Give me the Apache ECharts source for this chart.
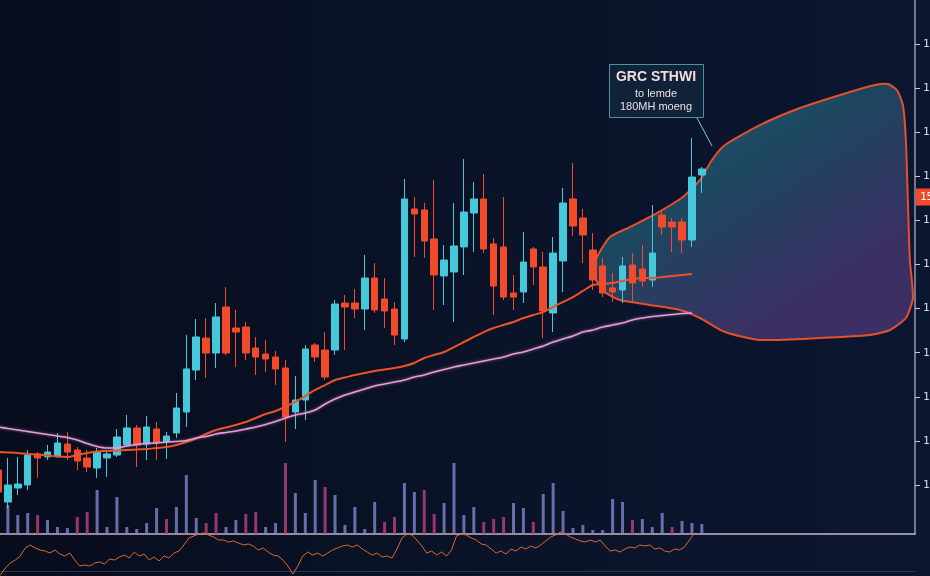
<!DOCTYPE html>
<html><head><meta charset="utf-8">
<script src="https://cdn.jsdelivr.net/npm/echarts@6/dist/echarts.min.js"></script>
<style>html,body{margin:0;padding:0;background:#09122a}#c{width:930px;height:576px}</style>
</head><body><div id="c"></div>
<script>
// ---- data ----
const categories = Array.from({length: 93}, (_, i) => 'D' + (i + 1));
const openPrices  = [121.69,118.06,119.65,119.99,123.51,123.17,123.28,124.64,123.96,123.05,121.92,123.05,123.39,124.53,126.46,124.64,126.34,124.87,125.89,128.27,133.03,136.66,134.96,140.18,137.80,137.91,135.53,134.85,134.51,133.26,128.27,129.63,135.87,135.30,135.30,140.63,140.63,139.95,143.47,141.09,139.95,136.55,151.30,151.18,147.89,143.70,144.15,146.99,150.84,152.43,147.33,146.99,141.77,141.88,146.76,144.72,139.50,145.40,152.43,150.27,146.64,144.83,142.34,142.11,144.94,144.49,143.24,150.61,149.82,149.82,147.78,155.15];
const closePrices = [119.20,119.99,120.10,123.39,123.05,123.73,124.76,123.73,122.71,122.03,123.73,123.51,125.44,126.46,124.53,126.57,124.76,125.55,128.72,133.15,136.78,134.96,139.05,134.96,137.34,134.96,134.51,134.28,133.15,127.70,129.63,135.42,134.51,132.24,140.52,140.18,139.95,143.47,139.84,139.73,137.00,152.43,150.73,147.67,143.81,145.51,147.10,150.95,152.43,146.76,142.56,141.31,141.31,145.28,144.72,139.73,146.30,151.98,149.37,148.35,143.24,141.77,141.88,144.83,142.90,143.13,146.30,149.25,149.25,147.78,154.92,155.83];
const lowPrices   = [118.86,117.38,118.86,119.42,120.79,122.83,123.05,122.83,121.69,121.47,120.79,120.90,123.17,124.30,122.03,122.83,122.83,122.94,125.32,126.57,131.90,132.13,133.26,134.74,133.37,134.17,132.47,132.81,131.33,124.87,126.34,127.36,133.94,131.90,134.74,135.30,138.93,137.57,139.50,137.80,135.87,136.21,145.85,145.74,139.84,140.41,138.48,143.81,146.42,146.30,139.27,140.97,139.84,140.63,142.68,136.66,137.34,141.88,148.23,145.17,142.11,141.31,140.75,140.63,140.63,142.45,142.45,148.35,146.42,146.30,146.99,153.11];
const highPrices  = [122.26,123.05,123.17,123.96,123.73,124.53,125.89,126.00,124.30,123.96,124.19,123.96,126.34,127.93,126.80,127.82,127.14,126.00,130.43,137.00,138.82,138.93,140.63,142.45,139.84,138.48,136.78,136.44,135.19,134.17,132.35,135.87,136.10,137.34,140.97,141.54,142.22,146.08,145.17,143.47,140.75,154.70,152.66,151.98,154.58,147.21,151.98,156.97,154.36,155.27,148.01,152.66,143.81,148.69,146.99,146.42,148.12,153.68,156.51,151.30,148.57,145.74,144.04,145.85,146.30,147.21,151.75,151.18,150.27,150.27,159.35,156.06];
const maFast = [123.73,123.68,123.62,123.51,123.45,123.34,123.22,123.17,123.39,123.62,123.79,123.85,123.90,123.96,124.02,124.07,124.19,124.30,124.53,124.87,125.27,125.78,126.23,126.51,126.80,127.14,127.59,128.04,128.38,128.90,129.41,130.09,130.77,131.33,131.90,132.18,132.47,132.69,132.92,133.09,133.26,133.49,133.83,134.40,134.74,135.08,135.64,136.21,136.78,137.34,137.80,138.14,138.48,138.93,139.27,139.61,140.18,140.75,141.31,142.00,142.68,142.79,142.90,143.13,143.36,143.47,143.47,143.58,143.70,143.81,143.92];
const maSlow = [126.57,126.40,126.23,126.06,125.89,125.72,125.55,125.38,125.10,124.70,124.36,124.19,124.19,124.41,124.59,124.70,124.76,124.87,124.92,125.04,125.32,125.49,125.78,125.95,126.12,126.34,126.57,126.85,127.19,127.59,127.93,128.16,128.50,129.18,129.75,130.20,130.54,130.88,131.22,131.45,131.67,131.90,132.24,132.47,132.81,133.09,133.37,133.60,133.83,134.06,134.28,134.51,134.85,135.08,135.42,135.76,136.21,136.55,136.89,137.34,137.57,137.91,138.14,138.37,138.71,138.93,139.10,139.22,139.33,139.44,139.50];
const volumes = [12,29,19,21,19,14,7,6,17,22,44,7,37,7,5,11,26,15,27,59,16,11,21,7,14,20,22,7,11,71,41,21,54,47,39,9,27,5,32,12,17,51,42,44,20,31,71,19,27,12,15,17,31,26,12,40,51,23,6,9,4,4,35,32,14,15,7,21,7,13,11,10];
const volumeSide = ['b','b','b','b','p','b','b','b','p','p','b','b','b','b','b','b','b','p','b','b','b','p','p','b','b','p','p','b','b','p','b','b','b','p','b','b','b','b','b','p','p','b','b','p','p','b','b','b','b','p','p','p','b','b','p','b','b','b','b','b','b','b','b','b','p','b','b','b','p','b','b','b'];
const oscCategories = Array.from({length: 186}, (_, i) => 'H' + (i + 1));
const oscValues = [0,1,8,13,16,20,28,31,28,26,25,23,26,22,20,23,16,10,11,10,13,14,12,17,16,19,21,18,24,20,22,16,19,15,20,18,23,25,31,38,40,42,43,41,39,36,36,34,35,33,31,32,30,26,28,24,21,20,16,10,2,10,20,24,21,23,20,23,26,28,30,31,29,31,27,24,21,23,19,20,18,27,38,42,41,36,30,23,25,21,24,20,26,40,42,41,38,36,32,31,27,23,25,22,27,25,29,27,30,28,31,35,39,41,44,42,39,37,35,34,36,34,36,30,25,26,24,27,29,28,31,30,31,27,28,25,24,27,26,29,36,43];
const cloudIndex = [59.91,60.42,61.73,63.74,66.47,69.09,70.81,72.02,73.33,76.86,80.89,85.93,88.45,89.77,90.67,91.28,91.58,91.78,91.98,92.29,91.58,89.97,87.95,82.91,76.86,73.33,70.81,68.79,65.76,62.74,61.22];
const cloudPrice = [144.15,145.85,148.12,149.25,150.84,152.66,154.58,156.85,158.55,160.82,162.75,164.57,165.36,165.47,164.79,163.09,159.12,152.32,145.51,141.20,138.93,137.57,137.00,136.66,136.44,137.34,138.93,139.84,140.41,140.97,141.88];
const priceTicks = [120,125,130,135,140,145,150,155,160,165,170];
const lastPriceTag = 152.66;
const noteLines = ['GRC STHWI', 'to lemde', '180MH moeng'];

// ---- chart ----
const candleData = openPrices.map((o, i) => [o, closePrices[i], lowPrices[i], highPrices[i]]);
const UP = '#45c8d9', DOWN = '#f24b2c';
const chart = echarts.init(document.getElementById('c'), null, {renderer: 'canvas'});
const gridX = {left: -7, width: 922, outerBoundsMode: 'none', containLabel: false};
chart.setOption({
  animation: false,
  backgroundColor: {type: 'linear', x: 0, y: 0, x2: 1, y2: 0, colorStops: [
    {offset: 0, color: '#070d1d'}, {offset: 0.55, color: '#0a1328'}, {offset: 1, color: '#0b1631'}]},
  grid: [
    Object.assign({top: 0, height: 534}, gridX),
    Object.assign({top: 450, height: 84}, gridX),
    Object.assign({top: 532, height: 39}, gridX)
  ],
  xAxis: [
    {type: 'category', gridIndex: 0, data: categories, boundaryGap: true,
     axisLine: {show: true, onZero: false, lineStyle: {color: '#c9b5c6', width: 1.5}}, axisTick: {show: false}, axisLabel: {show: false}},
    {type: 'value', gridIndex: 0, min: -0.5, max: 92.5, show: false, axisLine: {onZero: false}},
    {type: 'category', gridIndex: 1, data: categories, boundaryGap: true, show: false},
    {type: 'category', gridIndex: 2, data: oscCategories, boundaryGap: true,
     axisLine: {show: true, onZero: false, lineStyle: {color: '#2c3344', width: 1}}, axisTick: {show: false}, axisLabel: {show: false}}
  ],
  yAxis: [
    {type: 'value', gridIndex: 0, position: 'right', min: 114.4336, max: 175,
     splitLine: {show: false},
     axisLine: {show: true, onZero: false, lineStyle: {color: '#9a97a8', width: 1.5}},
     axisTick: {show: true, length: 5, customValues: priceTicks, lineStyle: {color: '#c9c6d4'}},
     axisLabel: {show: true, customValues: priceTicks, margin: 8, color: '#dcdbe4', fontFamily: 'DejaVu Sans Mono', fontSize: 11,
       formatter: v => v.toFixed(2)}},
    {type: 'value', gridIndex: 1, min: 0, max: 84, show: false},
    {type: 'value', gridIndex: 2, min: 5, max: 44, show: false}
  ],
  series: [
    {type: 'custom', xAxisIndex: 1, yAxisIndex: 0, z: 1, silent: true,
     data: cloudIndex.map((x, i) => [x, cloudPrice[i]]),
     encode: {x: 0, y: 1},
     renderItem: function (params, api) {
       if (params.dataIndex !== 0) return null;
       const pts = cloudIndex.map((x, i) => api.coord([x, cloudPrice[i]]));
       return {type: 'polygon', shape: {points: pts, smooth: 0.2},
         style: {fill: {type: 'linear', x: 0, y: 0, x2: 0.5, y2: 1, colorStops: [
           {offset: 0, color: '#1f6571'}, {offset: 0.5, color: '#1c4660'}, {offset: 1, color: '#3c2f63'}]},
           stroke: '#e4502b', lineWidth: 2}};
     }},
    {type: 'bar', xAxisIndex: 2, yAxisIndex: 1, data: volumes, barWidth: 3, z: 2,
     itemStyle: {color: p => volumeSide[p.dataIndex] === 'p' ? 'rgba(175,62,128,0.85)' : 'rgba(128,132,205,0.8)'}},
    {type: 'candlestick', xAxisIndex: 0, yAxisIndex: 0, data: candleData, barWidth: 7, z: 3,
     itemStyle: {color: UP, color0: DOWN, borderColor: UP, borderColor0: DOWN, borderWidth: 1}},
    {type: 'line', xAxisIndex: 0, yAxisIndex: 0, data: maFast, smooth: 0.3, symbol: 'none', z: 4,
     lineStyle: {color: '#ec5228', width: 2}},
    {type: 'line', xAxisIndex: 0, yAxisIndex: 0, data: maSlow, smooth: 0.3, symbol: 'none', z: 4,
     lineStyle: {color: '#e89ad8', width: 1.6, shadowColor: 'rgba(232,154,216,0.6)', shadowBlur: 3}},
    {type: 'line', xAxisIndex: 3, yAxisIndex: 2, data: oscValues, symbol: 'none', clip: false, z: 4,
     lineStyle: {color: '#d9692f', width: 1}},
    {type: 'line', name: 'tag', xAxisIndex: 0, yAxisIndex: 0, data: [], clip: false, z: 6, silent: true,
     markLine: {symbol: 'none', silent: true, precision: 2, data: [{yAxis: lastPriceTag}],
       lineStyle: {color: 'rgba(0,0,0,0)', width: 0},
       label: {show: true, position: 'end', distance: 1, color: '#ffffff', backgroundColor: '#f04a2a', padding: [3, 6, 3, 4],
         fontSize: 11, fontFamily: 'DejaVu Sans Mono'}}}
  ],
  graphic: [
    {type: 'polyline', shape: {points: [[697, 118], [704, 131], [712, 146]]}, style: {stroke: '#8cc6de', lineWidth: 1, fill: null}, z: 10},
    {type: 'rect', shape: {x: 609.5, y: 64.5, width: 94, height: 53}, style: {fill: '#0f2237', stroke: '#4a93a6', lineWidth: 1}, z: 10},
    {type: 'text', x: 656, y: 70, style: {text: noteLines[0], fill: '#f2dde4', font: 'bold 14px "Liberation Sans"', textAlign: 'center'}, z: 11},
    {type: 'text', x: 656, y: 88, style: {text: noteLines[1], fill: '#ecdde4', font: '11px "Liberation Sans"', textAlign: 'center'}, z: 11},
    {type: 'text', x: 656, y: 101, style: {text: noteLines[2], fill: '#ecdde4', font: '11px "Liberation Sans"', textAlign: 'center'}, z: 11}
  ]
});
</script></body></html>
